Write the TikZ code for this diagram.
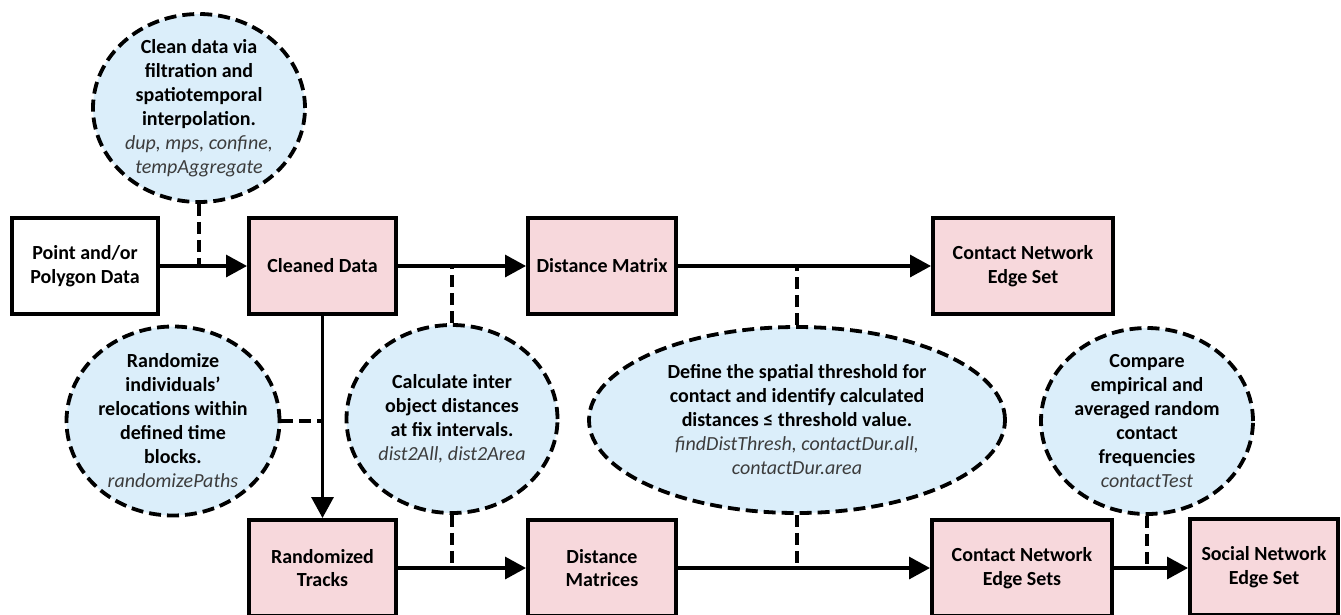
\documentclass[tikz,border=0pt]{standalone}
\usepackage{fontspec}
\setmainfont{Carlito}
\usetikzlibrary{shapes.geometric,arrows.meta}
\definecolor{pinkfill}{RGB}{247,216,220}
\definecolor{bluefill}{RGB}{219,238,250}
\definecolor{fngray}{RGB}{60,60,60}
\tikzset{
  stepbox/.style={draw, line width=4pt, fill=pinkfill, minimum height=96pt, align=center, inner sep=0pt,
    font=\fontsize{20}{23.5}\selectfont\bfseries},
  bubble/.style={ellipse, draw, line width=3.8pt, dash pattern=on 12pt off 6pt, fill=bluefill, inner sep=0pt},
  bubtext/.style={align=center, inner sep=0pt, font=\fontsize{20}{24}\selectfont\bfseries},
  conn/.style={line width=3.3pt, -{Triangle[length=21pt,width=22pt]}},
  dconn/.style={line width=3.8pt, dash pattern=on 12pt off 6pt},
}
\newcommand{\fn}[1]{{\mdseries\itshape\color{fngray}#1}}
\begin{document}
\begin{tikzpicture}[x=1pt,y=-1pt]
\useasboundingbox (0,0) rectangle (1341,614);
\clip (0,0) rectangle (1341,614);
% boxes
\node[stepbox, fill=white, minimum width=146pt] (pd) at (85,266) {Point and/or\\Polygon Data};
\node[stepbox, minimum width=147pt] (cd) at (322.5,266) {Cleaned Data};
\node[stepbox, minimum width=148pt] (dm) at (602,266) {Distance Matrix};
\node[stepbox, minimum width=180pt] (cn) at (1023,266) {Contact Network\\Edge Set};
\node[stepbox, minimum width=147pt] (rt) at (322.5,568) {Randomized\\Tracks};
\node[stepbox, minimum width=148pt] (dms) at (602,568) {Distance\\Matrices};
\node[stepbox, minimum width=180pt] (cns) at (1022,568) {Contact Network\\Edge Sets};
\node[stepbox, minimum width=148pt] (sn) at (1264,567) {Social Network\\Edge Set};
% bubbles
\node[bubble, minimum width=212pt, minimum height=188pt] (e1) at (199,108) {};
\node[bubtext] (t1) at (e1.center) {Clean data via\\filtration and\\spatiotemporal\\interpolation.\\\fn{dup, mps, confine,}\\\fn{tempAggregate}};
\node[bubble, minimum width=213pt, minimum height=189pt] (e2) at (173,421) {};
\node[bubtext] (t2) at (e2.center) {Randomize\\individuals’\\relocations within\\defined time\\blocks.\\\fn{randomizePaths}};
\node[bubble, minimum width=211pt, minimum height=188pt] (e3) at (452,419) {};
\node[bubtext] (t3) at (e3.center) {Calculate inter\\object distances\\at fix intervals.\\\fn{dist2All, dist2Area}};
\node[bubble, minimum width=416pt, minimum height=186pt] (e4) at (797,420) {};
\node[bubtext] (t4) at (e4.center) {Define the spatial threshold for\\contact and identify calculated\\distances ≤ threshold value.\\\fn{findDistThresh, contactDur.all,}\\\fn{contactDur.area}};
\node[bubble, minimum width=212pt, minimum height=186pt] (e5) at (1147,421) {};
\node[bubtext] (t5) at (e5.center) {Compare\\empirical and\\averaged random\\contact\\frequencies\\\fn{contactTest}};
% main connectors
\draw[conn] (pd.east) -- (cd.west);
\draw[conn] (cd.east) -- (dm.west);
\draw[conn] (dm.east) -- (cn.west);
\draw[conn] (cd.south) -- (rt.north);
\draw[conn] (rt.east) -- (dms.west);
\draw[conn] (dms.east) -- (cns.west);
\draw[conn] (cns.east) -- (sn.west |- cns.east);
% dashed connectors
\draw[dconn] (e1.south) -- (e1.south |- pd.east);
\draw[dconn] (e2.east) -- (e2.east -| cd.south);
\draw[dconn] (e3.north) -- (e3.north |- cd.east);
\draw[dconn] (e3.south) -- (e3.south |- rt.east);
\draw[dconn] (e4.north) -- (e4.north |- dm.east);
\draw[dconn] (e4.south) -- (e4.south |- dms.east);
\draw[dconn] (e5.south) -- (e5.south |- cns.east);
\end{tikzpicture}
\end{document}
